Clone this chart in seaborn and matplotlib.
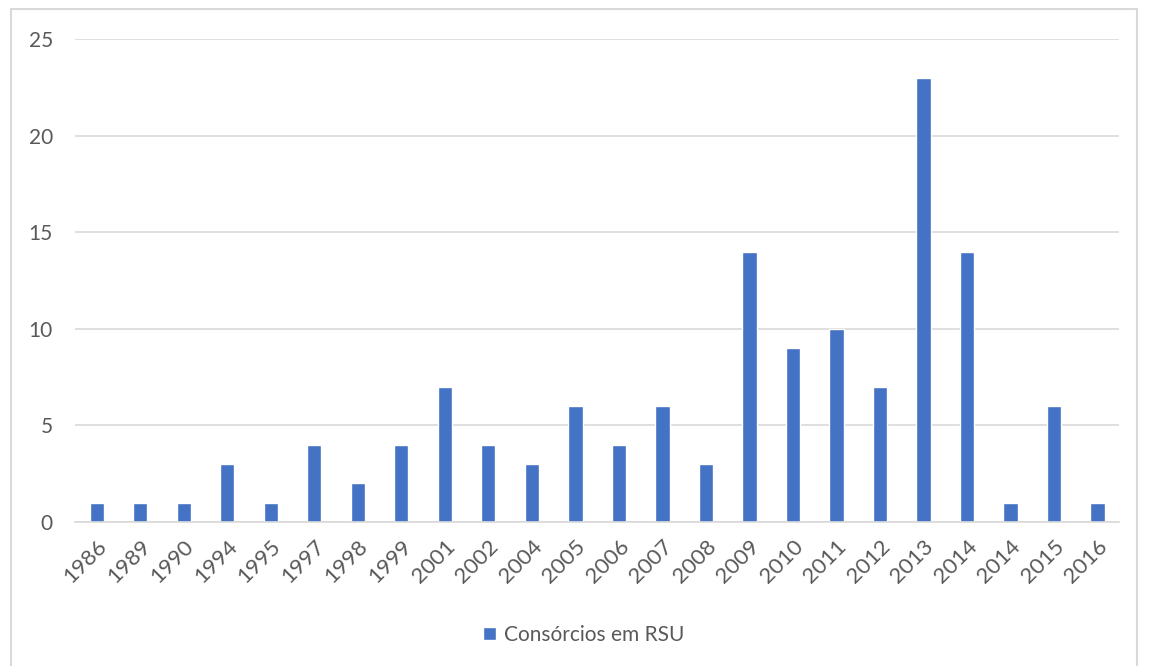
import numpy as np
import pandas as pd
import matplotlib
matplotlib.use("Agg")
import matplotlib.pyplot as plt
import seaborn as sns
from matplotlib.patches import Rectangle

# ~ data (2014 appears twice in the source)
years = ["1986", "1989", "1990", "1994", "1995", "1997", "1998", "1999", "2001", "2002",
         "2004", "2005", "2006", "2007", "2008", "2009", "2010", "2011", "2012", "2013",
         "2014", "2014", "2015", "2016"]
counts = [1, 1, 1, 3, 1, 4, 2, 4, 7, 4, 3, 6, 4, 6, 3, 14, 9, 10, 7, 23, 14, 1, 6, 1]
series_name = "Consórcios em RSU"

df = pd.DataFrame({"pos": list(range(len(years))), "n": counts})

sns.set_style("white")
plt.rcParams['font.family'] = ['Lato', 'DejaVu Sans']
txt = '#595959'

fig = plt.figure(figsize=(11.49, 6.66), dpi=100)
ax = fig.add_axes([0.0653, 0.2162, 0.9087, 0.7252])

sns.barplot(data=df, x="pos", y="n", color="#4472C4", width=0.33,
            saturation=1, label=series_name, ax=ax)

ax.set_ylim(0, 25)
ax.set_yticks(range(0, 26, 5))
ax.set_xlim(-0.5, len(years) - 0.5)
ax.set_xticks(range(len(years)))
ax.set_xticklabels(years, rotation=45, ha='right', rotation_mode='anchor')
ax.tick_params(axis='y', length=0, labelsize=15, colors=txt, pad=16)
ax.tick_params(axis='x', length=0, labelsize=16, colors=txt, pad=10)
ax.yaxis.grid(True, color='#D9D9D9', linewidth=1.2)
ax.set_axisbelow(True)
for s in ['top', 'right', 'left']:
    ax.spines[s].set_visible(False)
ax.spines['bottom'].set_color('#D9D9D9')
ax.spines['bottom'].set_linewidth(1.2)
ax.set_xlabel("")
ax.set_ylabel("")

ax.legend(loc='center', bbox_to_anchor=(0.508, 0.047), bbox_transform=fig.transFigure,
          frameon=False, fontsize=15, labelcolor=txt, handlelength=0.6,
          handleheight=0.6, handletextpad=0.4)

# ~ outer chart border like the excel frame
fig.patches.append(Rectangle((11 / 1149, -0.02), 1126 / 1149, 1 - 9 / 666 + 0.02,
                             transform=fig.transFigure, fill=False,
                             edgecolor='#D9D9D9', linewidth=1.5))

fig.savefig("out.png", dpi=100)
